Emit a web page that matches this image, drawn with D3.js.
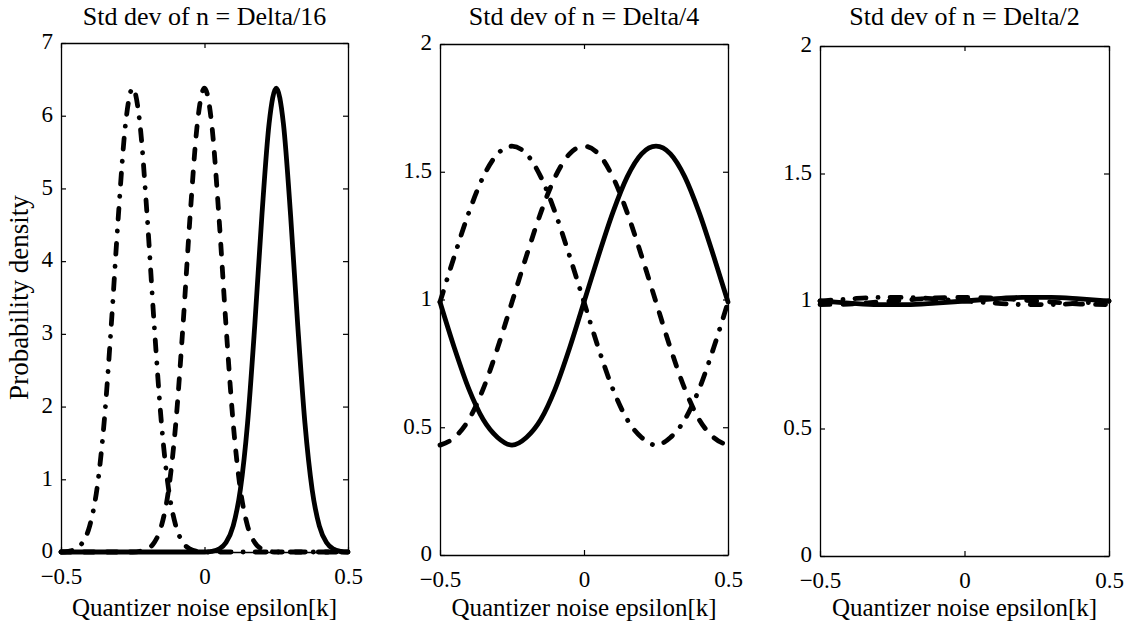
<!DOCTYPE html>
<html>
<head>
<meta charset="utf-8">
<script src="https://cdn.jsdelivr.net/npm/d3@7"></script>
<style>
  html, body { margin: 0; padding: 0; background: #fff; }
  svg { display: block; }
  text { font-family: "Liberation Serif", "Times New Roman", serif; fill: #000; }
</style>
</head>
<body>
<svg id="chart" width="1132" height="627"></svg>
<script>
// Quantizer noise grid (fine, for the narrow Delta/16 densities)
const epsFine = [-0.5,-0.475,-0.45,-0.425,-0.4,-0.375,-0.35,-0.325,-0.3,-0.275,
  -0.25,-0.225,-0.2,-0.175,-0.15,-0.125,-0.1,-0.075,-0.05,-0.025,
  0,0.025,0.05,0.075,0.1,0.125,0.15,0.175,0.2,0.225,
  0.25,0.275,0.3,0.325,0.35,0.375,0.4,0.425,0.45,0.475,0.5];

// Std dev Delta/16: densities for the three offsets (-0.25, 0, +0.25)
const pdf16Minus = [0.00,0.01,0.04,0.13,0.36,0.86,1.77,3.11,4.63,5.89,
  6.38,5.89,4.63,3.11,1.77,0.86,0.36,0.13,0.04,0.01,
  0,0,0,0,0,0,0,0,0,0,
  0,0,0,0,0,0,0,0,0,0,0];
const pdf16Zero = [0,0,0,0,0,0,0,0,0,0,
  0.00,0.01,0.04,0.13,0.36,0.86,1.77,3.11,4.63,5.89,
  6.38,5.89,4.63,3.11,1.77,0.86,0.36,0.13,0.04,0.01,
  0.00,0,0,0,0,0,0,0,0,0,0];
const pdf16Plus = [0,0,0,0,0,0,0,0,0,0,
  0,0,0,0,0,0,0,0,0,0,
  0.00,0.01,0.04,0.13,0.36,0.86,1.77,3.11,4.63,5.89,
  6.38,5.89,4.63,3.11,1.77,0.86,0.36,0.13,0.04,0.01,0.00];

// Coarser grid for the wider densities
const epsMid = [-0.5,-0.45,-0.4,-0.35,-0.3,-0.25,-0.2,-0.15,-0.1,-0.05,
  0,0.05,0.1,0.15,0.2,0.25,0.3,0.35,0.4,0.45,0.5];

// Std dev Delta/4
const pdf4Minus = [0.99,1.17,1.34,1.48,1.57,1.60,1.57,1.48,1.34,1.17,
  0.99,0.81,0.65,0.53,0.46,0.43,0.46,0.53,0.65,0.81,0.99];
const pdf4Zero = [0.43,0.46,0.53,0.65,0.81,0.99,1.17,1.34,1.48,1.57,
  1.60,1.57,1.48,1.34,1.17,0.99,0.81,0.65,0.53,0.46,0.43];
const pdf4Plus = [0.99,0.81,0.65,0.53,0.46,0.43,0.46,0.53,0.65,0.81,
  0.99,1.17,1.34,1.48,1.57,1.60,1.57,1.48,1.34,1.17,0.99];

const epsWide = [-0.5,-0.4,-0.3,-0.2,-0.1,0,0.1,0.2,0.3,0.4,0.5];

// Std dev Delta/2 (nearly uniform)
const pdf2Minus = [1.000,1.008,1.014,1.014,1.008,1.000,0.992,0.986,0.986,0.992,1.000];
const pdf2Zero  = [0.986,0.988,0.996,1.004,1.012,1.014,1.012,1.004,0.996,0.988,0.986];
const pdf2Plus  = [1.000,0.992,0.986,0.986,0.992,1.000,1.008,1.014,1.014,1.008,1.000];

const titles = ["Std dev of n = Delta/16", "Std dev of n = Delta/4", "Std dev of n = Delta/2"];
const xTickValues = [-0.5, 0, 0.5];
const yTicksTall = [0,1,2,3,4,5,6,7];
const yTicksShort = [0,0.5,1,1.5,2];
const xLabel = "Quantizer noise epsilon[k]";
const yLabel = "Probability density";

// Line styles: +0.25 solid, 0 dashed, -0.25 dash-dot
const styles = [
  { dash: null },
  { dash: "10,13" },
  { dash: "11,12,0.1,12" }
];

const panels = [
  { title: titles[0], x: epsFine, series: [pdf16Plus, pdf16Zero, pdf16Minus], yMax: 7, yTicks: yTicksTall,
    box: { left: 61, right: 348, top: 43, bottom: 552 } },
  { title: titles[1], x: epsMid, series: [pdf4Plus, pdf4Zero, pdf4Minus], yMax: 2, yTicks: yTicksShort,
    box: { left: 440, right: 728, top: 44, bottom: 555 } },
  { title: titles[2], x: epsWide, series: [pdf2Plus, pdf2Zero, pdf2Minus], yMax: 2, yTicks: yTicksShort,
    box: { left: 820, right: 1109, top: 46, bottom: 556 } }
];

const svg = d3.select("#chart");
const fmt = d3.format("");
const titleSize = 26;
const labelSize = 25;
const tickSize = 23;

panels.forEach((p, i) => {
  const b = p.box;
  const x = d3.scaleLinear().domain([-0.5, 0.5]).range([b.left, b.right]);
  const y = d3.scaleLinear().domain([0, p.yMax]).range([b.bottom, b.top]);

  const g = svg.append("g");

  // density curves
  const line = d3.line().x((d, k) => x(p.x[k])).y(d => y(d)).curve(d3.curveMonotoneX);
  p.series.forEach((s, k) => {
    g.append("path")
      .datum(s)
      .attr("d", line)
      .attr("fill", "none")
      .attr("stroke", "#000")
      .attr("stroke-width", 4.8)
      .attr("stroke-linecap", "round")
      .attr("stroke-linejoin", "round")
      .attr("stroke-dasharray", styles[k].dash);
  });

  // box axes with inward ticks on all four sides
  const styleAxis = sel => {
    sel.selectAll("path.domain").attr("stroke", "#000").attr("stroke-width", 1.3);
    sel.selectAll(".tick line").attr("stroke", "#000").attr("stroke-width", 1.2);
    sel.selectAll("text").style("font-size", tickSize + "px").attr("font-family", null);
  };

  g.append("g").attr("transform", `translate(0,${b.bottom})`)
    .call(d3.axisBottom(x).tickValues(xTickValues).tickFormat(fmt).tickSizeInner(-5).tickSizeOuter(0).tickPadding(15.7))
    .call(styleAxis);
  g.append("g").attr("transform", `translate(0,${b.top})`)
    .call(d3.axisTop(x).tickValues(xTickValues).tickFormat("").tickSizeInner(-5).tickSizeOuter(0))
    .call(styleAxis);
  g.append("g").attr("transform", `translate(${b.left},0)`)
    .call(d3.axisLeft(y).tickValues(p.yTicks).tickFormat(fmt).tickSizeInner(-5).tickSizeOuter(0).tickPadding(8))
    .call(styleAxis)
    .call(sel => sel.selectAll("text").attr("dy", "0.25em"));
  g.append("g").attr("transform", `translate(${b.right},0)`)
    .call(d3.axisRight(y).tickValues(p.yTicks).tickFormat("").tickSizeInner(-5).tickSizeOuter(0))
    .call(styleAxis);

  // title
  g.append("text")
    .attr("x", (b.left + b.right) / 2)
    .attr("y", 25)
    .attr("text-anchor", "middle")
    .style("font-size", titleSize + "px")
    .text(p.title);

  // x label
  g.append("text")
    .attr("x", (b.left + b.right) / 2)
    .attr("y", 616)
    .attr("text-anchor", "middle")
    .style("font-size", labelSize + "px")
    .text(xLabel);

  if (i === 0) {
    g.append("text")
      .attr("transform", `translate(28,${(b.top + b.bottom) / 2}) rotate(-90)`)
      .attr("text-anchor", "middle")
      .style("font-size", "27px")
      .text(yLabel);
  }
});
</script>
</body>
</html>
